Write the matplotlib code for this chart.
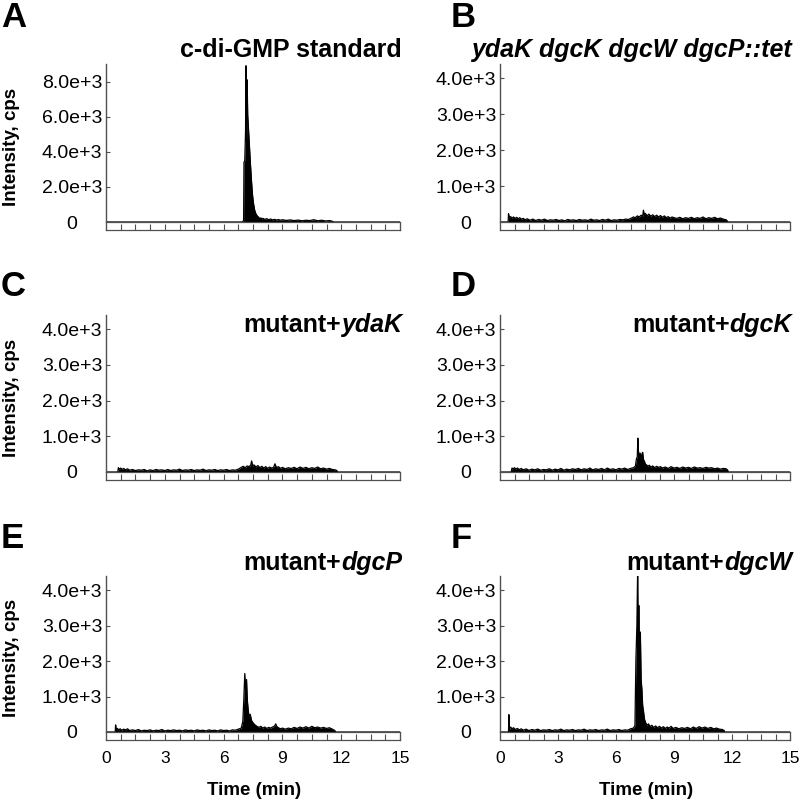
import matplotlib
matplotlib.use('Agg')
import numpy as np
import matplotlib.pyplot as plt

plt.rcParams['font.family'] = ['Liberation Sans', 'DejaVu Sans']

# --- chromatogram traces (time in min, intensity in cps) ---
a_time = [0.0, 6.95, 7.02, 7.04, 7.08, 7.12, 7.14, 7.17, 7.20, 7.23,
          7.27, 7.32, 7.37, 7.42, 7.47, 7.52, 7.58, 7.65, 7.72, 7.80,
          7.85, 7.90, 7.95, 8.00, 8.10, 8.20, 8.30, 8.40, 8.50, 8.60,
          8.70, 8.80, 8.90, 9.00, 9.20, 9.40, 9.60, 9.80, 10.0, 10.2,
          10.4, 10.6, 10.8, 11.0, 11.2, 11.4, 11.55, 11.6, 15.0]
a_cps = [0, 0, 80, 3400, 3500, 5200, 8900, 4600, 8100, 6100,
         5300, 4300, 3300, 2400, 1600, 1100, 700, 460, 340, 260,
         190, 230, 170, 210, 150, 190, 130, 170, 120, 150,
         110, 140, 100, 130, 90, 120, 80, 110, 70, 100,
         80, 130, 70, 100, 60, 80, 40, 0, 0]

b_time = [0.0, 0.42, 0.44, 0.48, 0.55, 0.62, 0.70, 0.78, 0.86, 0.94,
          1.02, 1.10, 1.20, 1.30, 1.40, 1.55, 1.70, 1.85, 2.00, 2.15,
          2.30, 2.45, 2.60, 2.75, 2.90, 3.05, 3.20, 3.35, 3.50, 3.65,
          3.80, 3.95, 4.10, 4.25, 4.40, 4.55, 4.70, 4.85, 5.00, 5.15,
          5.30, 5.45, 5.60, 5.75, 5.90, 6.05, 6.20, 6.35, 6.50, 6.65,
          6.80, 6.90, 7.00, 7.10, 7.20, 7.30, 7.38, 7.42, 7.46, 7.52,
          7.60, 7.70, 7.80, 7.90, 8.00, 8.10, 8.20, 8.30, 8.40, 8.50,
          8.60, 8.70, 8.80, 8.90, 9.00, 9.15, 9.30, 9.45, 9.60, 9.75,
          9.90, 10.05, 10.2, 10.35, 10.5, 10.65, 10.8, 10.95, 11.1, 11.25,
          11.4, 11.55, 11.7, 11.8, 15.0]
b_cps = [0, 0, 230, 130, 150, 110, 140, 100, 130, 90,
         120, 80, 100, 60, 90, 50, 80, 40, 70, 50,
         80, 40, 60, 50, 70, 40, 60, 30, 70, 50,
         60, 40, 70, 50, 60, 40, 80, 50, 60, 40,
         70, 50, 80, 40, 60, 50, 70, 60, 80, 70,
         110, 140, 120, 170, 140, 190, 160, 330, 200, 240,
         170, 220, 160, 200, 150, 190, 140, 180, 130, 170,
         120, 150, 110, 140, 120, 100, 130, 90, 120, 100,
         130, 90, 120, 100, 140, 90, 120, 100, 130, 90,
         110, 80, 60, 0, 0]

c_time = [0.0, 0.60, 0.63, 0.68, 0.75, 0.82, 0.90, 1.00, 1.10, 1.20,
          1.35, 1.50, 1.65, 1.80, 1.95, 2.10, 2.25, 2.40, 2.55, 2.70,
          2.85, 3.00, 3.15, 3.30, 3.45, 3.60, 3.75, 3.90, 4.05, 4.20,
          4.35, 4.50, 4.65, 4.80, 4.95, 5.10, 5.25, 5.40, 5.55, 5.70,
          5.85, 6.00, 6.15, 6.30, 6.45, 6.60, 6.75, 6.90, 7.00, 7.10,
          7.20, 7.30, 7.38, 7.43, 7.48, 7.55, 7.65, 7.75, 7.85, 7.95,
          8.05, 8.15, 8.25, 8.35, 8.45, 8.55, 8.62, 8.70, 8.80, 8.90,
          9.00, 9.15, 9.30, 9.45, 9.60, 9.75, 9.90, 10.05, 10.2, 10.35,
          10.5, 10.65, 10.8, 10.95, 11.1, 11.25, 11.4, 11.55, 11.7, 11.78,
          11.8, 15.0]
c_cps = [0, 0, 120, 80, 110, 70, 100, 60, 90, 50,
         70, 40, 60, 50, 70, 30, 60, 40, 70, 50,
         60, 40, 70, 40, 60, 50, 80, 40, 60, 50,
         70, 40, 60, 50, 80, 40, 60, 50, 70, 40,
         60, 50, 70, 40, 60, 50, 80, 130, 160, 120,
         170, 150, 190, 310, 170, 200, 140, 180, 120, 160,
         110, 150, 100, 140, 110, 130, 230, 120, 150, 100,
         130, 90, 120, 100, 130, 90, 140, 100, 130, 90,
         120, 100, 140, 90, 110, 80, 100, 70, 60, 40,
         0, 0]

d_time = [0.0, 0.58, 0.62, 0.68, 0.75, 0.82, 0.90, 1.00, 1.10, 1.20,
          1.35, 1.50, 1.65, 1.80, 1.95, 2.10, 2.25, 2.40, 2.55, 2.70,
          2.85, 3.00, 3.15, 3.30, 3.45, 3.60, 3.75, 3.90, 4.05, 4.20,
          4.35, 4.50, 4.65, 4.80, 4.95, 5.10, 5.25, 5.40, 5.55, 5.70,
          5.85, 6.00, 6.15, 6.30, 6.45, 6.60, 6.75, 6.90, 7.00, 7.06,
          7.10, 7.13, 7.16, 7.20, 7.25, 7.30, 7.35, 7.38, 7.42, 7.47,
          7.52, 7.58, 7.65, 7.72, 7.80, 7.90, 8.00, 8.10, 8.20, 8.30,
          8.40, 8.55, 8.70, 8.85, 9.00, 9.15, 9.30, 9.45, 9.60, 9.75,
          9.90, 10.05, 10.2, 10.35, 10.5, 10.65, 10.8, 10.95, 11.1, 11.25,
          11.4, 11.55, 11.7, 11.78, 11.8, 15.0]
d_cps = [0, 0, 110, 90, 120, 80, 110, 70, 100, 60,
         90, 50, 80, 60, 90, 50, 70, 60, 90, 50,
         80, 60, 100, 50, 80, 60, 90, 70, 100, 60,
         90, 70, 110, 60, 90, 70, 100, 60, 110, 70,
         90, 60, 100, 80, 110, 70, 100, 120, 160, 380,
         420, 950, 600, 430, 530, 380, 520, 550, 350, 300,
         220, 200, 160, 190, 140, 170, 120, 160, 130, 150,
         110, 140, 100, 150, 110, 130, 100, 140, 110, 130,
         100, 140, 110, 120, 100, 130, 110, 120, 90, 110,
         80, 100, 90, 50, 0, 0]

e_time = [0.0, 0.47, 0.49, 0.52, 0.58, 0.65, 0.72, 0.80, 0.90, 1.00,
          1.10, 1.20, 1.35, 1.50, 1.65, 1.80, 1.95, 2.10, 2.25, 2.40,
          2.55, 2.70, 2.85, 3.00, 3.15, 3.30, 3.45, 3.60, 3.75, 3.90,
          4.05, 4.20, 4.35, 4.50, 4.65, 4.80, 4.95, 5.10, 5.25, 5.40,
          5.55, 5.70, 5.85, 6.00, 6.15, 6.30, 6.45, 6.60, 6.75, 6.90,
          6.98, 7.03, 7.08, 7.12, 7.17, 7.21, 7.25, 7.30, 7.36, 7.42,
          7.50, 7.60, 7.70, 7.80, 7.90, 8.00, 8.10, 8.20, 8.30, 8.40,
          8.50, 8.60, 8.66, 8.72, 8.80, 8.90, 9.00, 9.15, 9.30, 9.45,
          9.60, 9.75, 9.90, 10.05, 10.2, 10.35, 10.5, 10.65, 10.8, 10.95,
          11.1, 11.25, 11.4, 11.55, 11.68, 11.7, 15.0]
e_cps = [0, 0, 200, 70, 100, 60, 90, 50, 80, 60,
         90, 40, 60, 40, 70, 30, 50, 40, 60, 30,
         50, 40, 70, 30, 50, 40, 60, 40, 50, 30,
         60, 40, 50, 30, 60, 40, 50, 30, 60, 40,
         50, 30, 60, 40, 50, 30, 60, 50, 80, 110,
         300, 900, 1650, 1200, 1480, 900, 650, 420, 500, 330,
         260, 200, 160, 130, 160, 110, 140, 100, 130, 110,
         140, 170, 230, 150, 120, 90, 110, 80, 110, 90,
         130, 100, 140, 110, 150, 110, 160, 120, 140, 110,
         130, 100, 120, 80, 40, 0, 0]

f_time = [0.0, 0.44, 0.46, 0.48, 0.55, 0.62, 0.70, 0.80, 0.90, 1.00,
          1.10, 1.20, 1.35, 1.50, 1.65, 1.80, 1.95, 2.10, 2.25, 2.40,
          2.55, 2.70, 2.85, 3.00, 3.15, 3.30, 3.45, 3.60, 3.75, 3.90,
          4.05, 4.20, 4.35, 4.50, 4.65, 4.80, 4.95, 5.10, 5.25, 5.40,
          5.55, 5.70, 5.85, 6.00, 6.15, 6.30, 6.45, 6.60, 6.75, 6.90,
          6.98, 7.03, 7.08, 7.12, 7.15, 7.18, 7.22, 7.26, 7.30, 7.34,
          7.38, 7.42, 7.47, 7.52, 7.60, 7.68, 7.76, 7.85, 7.95, 8.05,
          8.15, 8.25, 8.35, 8.45, 8.55, 8.65, 8.75, 8.85, 8.95, 9.10,
          9.25, 9.40, 9.55, 9.70, 9.85, 10.0, 10.15, 10.3, 10.45, 10.6,
          10.75, 10.9, 11.05, 11.2, 11.35, 11.5, 11.6, 11.62, 15.0]
f_cps = [0, 0, 490, 60, 140, 90, 120, 70, 100, 60,
         90, 50, 80, 40, 70, 50, 80, 40, 60, 50,
         70, 40, 60, 50, 80, 40, 60, 50, 70, 40,
         60, 50, 80, 40, 60, 50, 70, 40, 60, 50,
         80, 40, 60, 50, 70, 40, 60, 50, 90, 110,
         180, 2050, 3000, 4600, 2600, 3570, 2100, 2820, 1480, 1200,
         740, 600, 370, 280, 190, 230, 150, 190, 130, 170,
         120, 160, 110, 150, 100, 140, 110, 160, 100, 130,
         90, 120, 100, 130, 90, 140, 100, 150, 110, 140,
         100, 130, 90, 110, 80, 70, 40, 0, 0]

std_ticks = [0, 2000, 4000, 6000, 8000]
std_ticklabels = ['0', '2.0e+3', '4.0e+3', '6.0e+3', '8.0e+3']
low_ticks = [0, 1000, 2000, 3000, 4000]
low_ticklabels = ['0', '1.0e+3', '2.0e+3', '3.0e+3', '4.0e+3']
time_ticklabels = ['0', '3', '6', '9', '12', '15']

panels = [
    ('A', '', 'c-di-GMP standard', a_time, a_cps, 9000, std_ticks, std_ticklabels),
    ('B', '', 'ydaK dgcK dgcW dgcP::tet', b_time, b_cps, 4400, low_ticks, low_ticklabels),
    ('C', 'mutant+', 'ydaK', c_time, c_cps, 4400, low_ticks, low_ticklabels),
    ('D', 'mutant+', 'dgcK', d_time, d_cps, 4400, low_ticks, low_ticklabels),
    ('E', 'mutant+', 'dgcP', e_time, e_cps, 4400, low_ticks, low_ticklabels),
    ('F', 'mutant+', 'dgcW', f_time, f_cps, 4400, low_ticks, low_ticklabels),
]

# layout in pixels of an 800x800 figure
W = H = 800
cols = [(106, 400), (500, 790)]
rows = [(64, 222), (315, 472), (576, 732)]   # top of y axis, baseline
letter_y = [27, 296, 548]
title_y = [57, 332, 570]
strip_h = 8
axis_col = '#505050'


def fx(x):
    return x / W


def fy(y):
    return 1 - y / H


fig = plt.figure(figsize=(8, 8), dpi=100)
renderer = fig.canvas.get_renderer()

for i, (letter, plain, italic, t, v, ymax, ticks, ticklabels) in enumerate(panels):
    r, c = divmod(i, 2)
    x0, x1 = cols[c]
    top, base = rows[r]

    ax = fig.add_axes([fx(x0), fy(base), (x1 - x0) / W, (base - top) / H])
    ax.fill_between(t, 0, v, color='black', lw=0)
    ax.plot(t, v, color='black', lw=0.9)
    ax.set_xlim(0, 15)
    ax.set_ylim(0, ymax)
    for s in ['top', 'right', 'bottom']:
        ax.spines[s].set_visible(False)
    ax.spines['left'].set_color(axis_col)
    ax.spines['left'].set_linewidth(1.0)
    ax.set_xticks([])
    ax.set_yticks(ticks)
    ax.set_yticklabels(ticklabels)
    ax.tick_params(axis='y', direction='in', length=3, width=0.8, color=axis_col,
                   labelsize=14, pad=24.5)
    for lbl in ax.get_yticklabels():
        lbl.set_horizontalalignment('center')

    # time strip under the trace
    sax = fig.add_axes([fx(x0), fy(base + strip_h), (x1 - x0) / W, strip_h / H])
    sax.set_xlim(0, 15)
    sax.set_yticks([])
    for s in sax.spines.values():
        s.set_color(axis_col)
        s.set_linewidth(0.9)
    sax.set_xticks(np.arange(0, 15.01, 0.75))
    if r == 2:
        labels = []
        k = 0
        for x in np.arange(0, 15.01, 0.75):
            if abs(x % 3) < 1e-9:
                labels.append(time_ticklabels[k])
                k += 1
            else:
                labels.append('')
        sax.set_xticklabels(labels)
        fig.text(fx((x0 + x1) / 2 + 1), fy(795), 'Time (min)', fontsize=13.5,
                 fontweight='bold', ha='center', va='baseline')
    else:
        sax.set_xticklabels([])
    sax.tick_params(axis='x', direction='in', length=4, width=0.8, color=axis_col,
                    labelsize=12.5, pad=8)

    if c == 0:
        fig.text(fx(12), fy((top + base + strip_h) / 2), 'Intensity, cps', rotation=90,
                 fontsize=13.5, fontweight='bold', ha='center', va='center')

    # panel letter
    lx = 1 if c == 0 else 451
    fig.text(fx(lx), fy(letter_y[r]), letter, fontsize=25, fontweight='bold',
             ha='left', va='baseline')

    # title: plain part + italic gene names, right aligned
    right = x1 + 2
    it = fig.text(fx(right), fy(title_y[r]), italic, fontsize=18, fontweight='bold',
                  style='italic' if (plain or letter == 'B') else 'normal',
                  ha='right', va='baseline')
    if plain:
        bb = it.get_window_extent(renderer)
        fig.text(bb.x0 / W, fy(title_y[r]), plain, fontsize=18, fontweight='bold',
                 ha='right', va='baseline')

fig.savefig('out.png', dpi=100)
